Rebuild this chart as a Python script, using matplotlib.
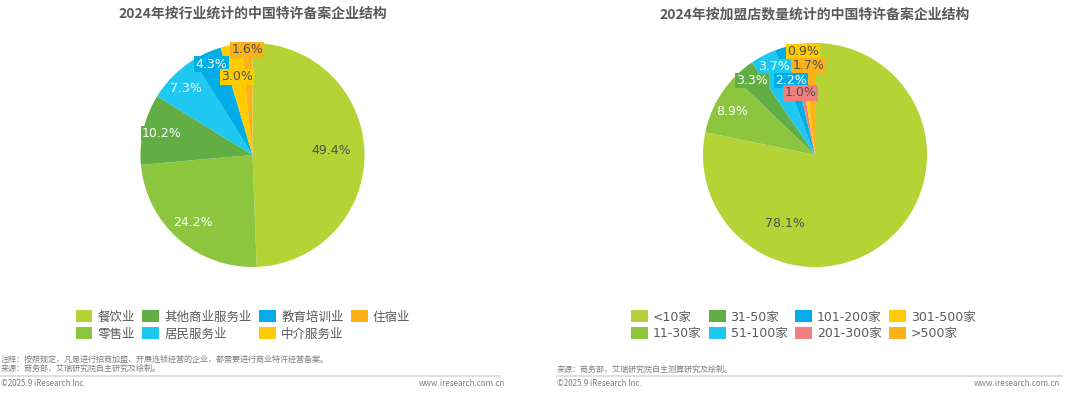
import numpy as np
import matplotlib
matplotlib.use("Agg")
from matplotlib import pyplot as plt
from matplotlib.patches import Patch
from matplotlib.lines import Line2D

plt.rcParams['font.family'] = ['DejaVu Sans', 'Noto Sans CJK SC']

# left chart: by industry
industry_names = ["餐饮业", "零售业", "其他商业服务业", "居民服务业", "教育培训业", "中介服务业", "住宿业"]
industry_shares = [49.4, 24.2, 10.2, 7.3, 4.3, 3.0, 1.6]
industry_colors = ["#b5d334", "#8cc63f", "#62ad44", "#1ec8f0", "#00ade6", "#ffcc00", "#fbb117"]

# right chart: by number of franchise stores
store_names = ["<10家", "11-30家", "31-50家", "51-100家", "101-200家", "201-300家", "301-500家", ">500家"]
store_shares = [78.1, 8.9, 3.3, 3.7, 2.2, 1.0, 0.9, 1.7]
store_colors = ["#b5d334", "#8cc63f", "#62ad44", "#1ec8f0", "#00ade6", "#f08080", "#ffcc00", "#fbb117"]

W, H = 1080, 395
fig = plt.figure(figsize=(W / 100, H / 100), dpi=100)
fig.patch.set_facecolor("white")

TEXT_GRAY = "#595959"
DARK_LABEL = "#505050"


def draw_pie(cx, cy, r, values, colors, label_radius, angle_shift, dark_labels, title):
    ax = fig.add_axes([(cx - r) / W, (H - cy - r) / H, 2 * r / W, 2 * r / H])
    wedges, _ = ax.pie(values, colors=colors, startangle=90, counterclock=False,
                       radius=1.0, wedgeprops=dict(linewidth=0))
    ax.set_xlim(-1, 1)
    ax.set_ylim(-1, 1)
    ax.axis("off")

    total = sum(values)
    cum = 0.0
    for i, v in enumerate(values):
        mid = 90 - 360 * (cum + v / 2) / total + angle_shift[i]
        cum += v
        rr = label_radius[i]
        x = rr * np.cos(np.radians(mid))
        y = rr * np.sin(np.radians(mid))
        tc = DARK_LABEL if dark_labels[i] else "white"
        ax.text(x, y, f"{v:.1f}%", ha="center", va="center", fontsize=9, color=tc,
                bbox=dict(boxstyle="square,pad=0.1", facecolor=colors[i], edgecolor="none"))

    fig.text(cx / W, 1 - 14 / H, title, ha="center", va="center", fontsize=10,
             fontweight="bold", color=TEXT_GRAY, family=["Noto Sans CJK SC", "DejaVu Sans"])


draw_pie(252.5, 155, 112, industry_shares, industry_colors,
         [0.70, 0.80, 0.83, 0.84, 0.89, 0.71, 0.94],
         [2, 0, 0, 0, 0, 0, 0],
         [True, False, False, False, False, True, True],
         "2024年按行业统计的中国特许备案企业结构")

draw_pie(815, 155, 112, store_shares, store_colors,
         [0.67, 0.84, 0.87, 0.87, 0.70, 0.57, 0.93, 0.80],
         [-63, 0, 0, -3, 1, 2, -1, 1],
         [True, False, False, False, False, True, True, True],
         "2024年按加盟店数量统计的中国特许备案企业结构")


def add_legend(names, colors, cx):
    handles = [Patch(facecolor=c, edgecolor="none", label=n) for n, c in zip(names, colors)]
    fig.legend(handles=handles, ncol=4, loc="upper center",
               bbox_to_anchor=(cx / W, 1 - 299 / H), frameon=False,
               handlelength=1.35, handleheight=1.1, handletextpad=0.4,
               columnspacing=0.6, labelspacing=0.3, labelcolor=TEXT_GRAY,
               prop=dict(family=["DejaVu Sans", "Noto Sans CJK SC"], size=9))


add_legend(industry_names, industry_colors, 243)
add_legend(store_names, store_colors, 803)

# footers
foot = dict(fontsize=5.8, color="#7f7f7f", family=["Noto Sans CJK SC", "DejaVu Sans"], va="center")
fig.text(1 / W, 1 - 359 / H, "注释：按照规定，凡是进行招商加盟、开展连锁经营的企业，都需要进行商业特许经营备案。", **foot)
fig.text(1 / W, 1 - 368 / H, "来源：商务部，艾瑞研究院自主研究及绘制。", **foot)
fig.text(1 / W, 1 - 384 / H, "©2025.9 iResearch Inc.", **foot)
fig.text(505 / W, 1 - 384 / H, "www.iresearch.com.cn", ha="right", **foot)

fig.text(557 / W, 1 - 369 / H, "来源：商务部，艾瑞研究院自主测算研究及绘制。", **foot)
fig.text(557 / W, 1 - 384 / H, "©2025.9 iResearch Inc.", **foot)
fig.text(1060 / W, 1 - 384 / H, "www.iresearch.com.cn", ha="right", **foot)

for x0, x1 in [(0, 500), (557, 1062)]:
    fig.add_artist(Line2D([x0 / W, x1 / W], [1 - 376 / H, 1 - 376 / H],
                          transform=fig.transFigure, color="#d9d9d9", linewidth=1.2))

fig.savefig("out.png", dpi=100, facecolor="white")
